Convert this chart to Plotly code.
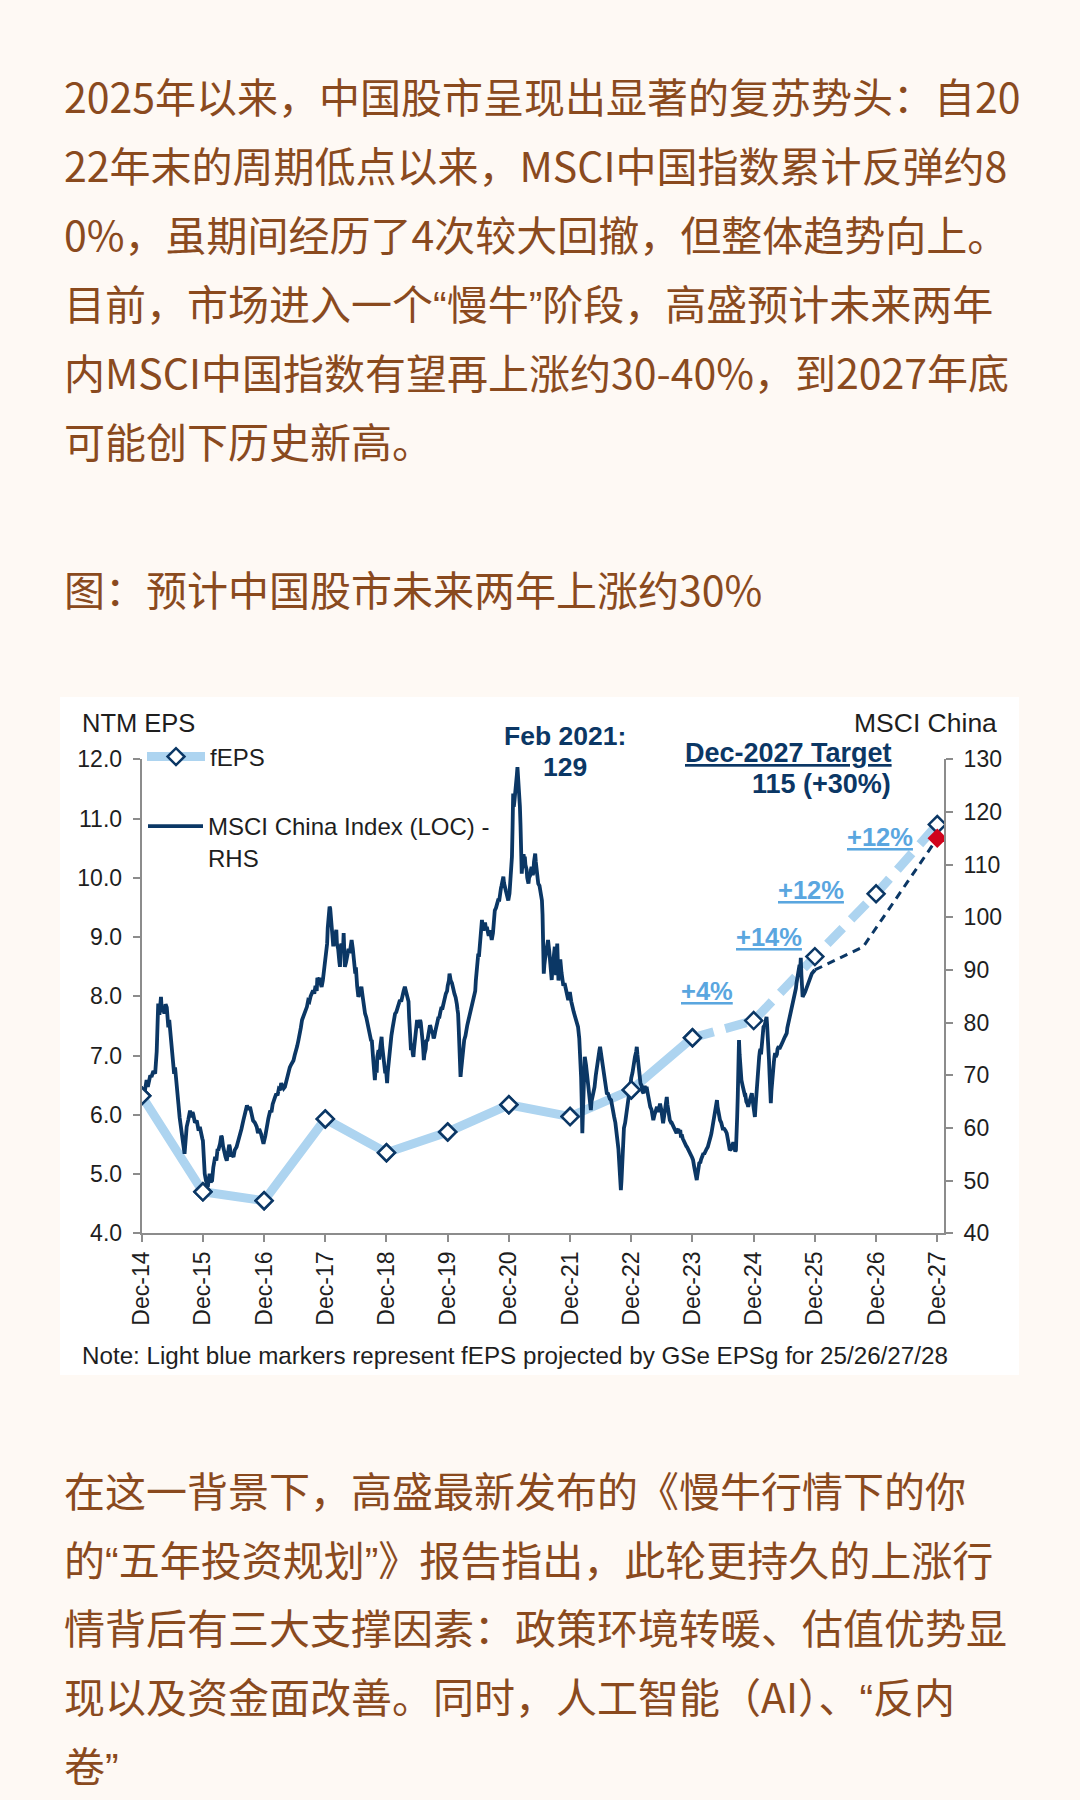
import plotly.graph_objects as go

W, H = 1080, 1800
BG = "#FEF9F4"
BROWN = "#8A4A1E"
NAVY = "#0B3765"
LIGHT = "#ADD4F0"
PCT = "#5AA6DF"
RED = "#D0021B"
GREY = "#8C8C8C"
INK = "#1E1E1E"
CJK = "Noto Sans CJK SC"
LAT = "Liberation Sans, Arial, sans-serif"

# narrow (Latin) curly quotes, as in the reference rendering
LQ = '<span style="font-family:Liberation Sans">“</span>'
RQ = '<span style="font-family:Liberation Sans">”</span>'

# ---------------- text ----------------
para1 = [
    "2025年以来，中国股市呈现出显著的复苏势头：自20",
    "22年末的周期低点以来，MSCI中国指数累计反弹约8",
    "0%，虽期间经历了4次较大回撤，但整体趋势向上。",
    "目前，市场进入一个" + LQ + "慢牛" + RQ + "阶段，高盛预计未来两年",
    "内MSCI中国指数有望再上涨约30-40%，到2027年底",
    "可能创下历史新高。",
]
caption = "图：预计中国股市未来两年上涨约30%"
para2 = [
    "在这一背景下，高盛最新发布的《慢牛行情下的你",
    "的" + LQ + "五年投资规划" + RQ + "》报告指出，此轮更持久的上涨行",
    "情背后有三大支撑因素：政策环境转暖、估值优势显",
    "现以及资金面改善。同时，人工智能（AI）、" + LQ + "反内",
    "卷" + RQ,
]

# ---------------- chart data ----------------
tick_pos = list(range(14))  # years after Dec-2014
tick_labels = ["Dec-14", "Dec-15", "Dec-16", "Dec-17", "Dec-18", "Dec-19", "Dec-20",
               "Dec-21", "Dec-22", "Dec-23", "Dec-24", "Dec-25", "Dec-26", "Dec-27"]

feps_t = list(range(14))
feps_v = [6.32, 4.70, 4.55, 5.93, 5.36, 5.71, 6.17, 5.97, 6.42, 7.30, 7.59, 8.67, 9.73, 10.90]
N_ACTUAL_FEPS = 10  # Dec-14 .. Dec-23 solid, then projected (dashed)

# MSCI China index (LOC), (years after Dec-2014, level)
m2015 = [(0.00,65.9),(0.02,67.5),(0.04,66.2),(0.06,68.0),(0.08,69.1),(0.10,67.8),(0.12,69.5),(0.14,70.0),(0.16,69.7),(0.19,70.8),(0.22,70.3),(0.245,74.5),(0.26,80.0),(0.27,83.6),(0.29,81.5),(0.305,84.0),(0.315,84.9),(0.33,82.0),(0.35,83.0),(0.37,81.7),(0.39,83.5),(0.41,82.9),(0.425,80.0),(0.435,79.1),(0.45,80.5),(0.47,77.5),(0.49,76.6),(0.51,73.0),(0.53,70.3),(0.545,71.5),(0.56,69.0),(0.58,66.0),(0.60,64.6),(0.62,62.0),(0.64,60.0),(0.65,58.9),(0.67,57.5),(0.69,56.0),(0.70,55.1),(0.72,58.0),(0.735,60.2),(0.76,61.5),(0.78,62.5),(0.79,63.3),(0.81,62.0),(0.83,63.0),(0.84,62.7),(0.87,61.0),(0.90,61.4),(0.92,59.8),(0.93,59.5),(0.95,60.2),(0.97,58.5),(0.99,58.0)]
m2016 = [(1.00,57.6),(1.015,54.0),(1.03,51.3),(1.05,50.0),(1.065,49.5),(1.08,48.8),(1.10,50.5),(1.11,51.3),(1.13,49.8),(1.15,50.0),(1.17,52.5),(1.19,53.5),(1.20,54.5),(1.22,53.8),(1.24,56.0),(1.25,55.7),(1.28,57.0),(1.30,58.5),(1.31,58.3),(1.33,56.5),(1.35,55.1),(1.37,54.5),(1.39,53.8),(1.41,55.0),(1.43,56.8),(1.44,56.4),(1.46,54.6),(1.47,55.0),(1.50,54.5),(1.52,55.8),(1.55,56.4),(1.58,57.5),(1.61,58.9),(1.63,59.8),(1.66,61.4),(1.69,62.5),(1.71,63.8),(1.72,64.3),(1.745,63.5),(1.77,64.0),(1.79,63.0),(1.80,62.5),(1.82,61.4),(1.85,61.0),(1.88,60.2),(1.90,59.0),(1.92,59.8),(1.95,58.9),(1.97,58.0),(1.99,57.0)]
m2017 = [(2.02,58.5),(2.04,60.2),(2.07,61.8),(2.10,63.3),(2.12,63.0),(2.14,64.5),(2.16,65.5),(2.18,65.9),(2.20,66.5),(2.22,66.2),(2.24,67.4),(2.26,67.2),(2.28,68.5),(2.30,68.0),(2.32,67.5),(2.34,67.8),(2.37,69.5),(2.40,70.9),(2.42,71.5),(2.44,72.0),(2.46,72.3),(2.48,72.8),(2.50,73.8),(2.52,74.5),(2.54,75.5),(2.56,76.6),(2.58,78.5),(2.60,79.0),(2.62,80.5),(2.64,81.1),(2.66,81.8),(2.68,82.5),(2.70,83.0),(2.72,84.2),(2.74,84.0),(2.76,85.0),(2.78,85.5),(2.80,86.1),(2.82,85.5),(2.84,87.0),(2.86,86.0),(2.87,88.5),(2.89,88.0),(2.91,88.5),(2.92,87.5),(2.94,86.8),(2.96,88.0),(2.97,89.0),(2.99,90.0)]
m2018 = [(3.00,90.6),(3.02,93.0),(3.03,95.0),(3.04,98.0),(3.05,100.1),(3.06,99.0),(3.07,102.0),(3.08,101.7),(3.09,99.5),(3.10,98.0),(3.12,96.0),(3.13,94.5),(3.15,95.5),(3.16,96.5),(3.18,97.6),(3.19,95.0),(3.21,94.0),(3.23,91.5),(3.24,90.6),(3.25,93.5),(3.26,95.0),(3.28,94.5),(3.29,93.8),(3.30,97.0),(3.31,92.5),(3.32,90.6),(3.34,91.5),(3.36,93.0),(3.38,94.0),(3.40,93.2),(3.43,95.7),(3.45,94.0),(3.46,92.0),(3.48,90.5),(3.49,89.3),(3.50,90.5),(3.52,87.0),(3.54,84.9),(3.56,85.5),(3.57,86.0),(3.59,86.8),(3.61,85.0),(3.62,84.0),(3.64,82.5),(3.65,81.7),(3.67,81.0),(3.68,80.5),(3.70,79.2),(3.72,78.5),(3.73,78.0),(3.75,76.5),(3.76,76.7),(3.78,73.5),(3.79,72.0),(3.80,70.0),(3.81,69.1),(3.82,71.0),(3.83,71.5),(3.84,70.5),(3.85,73.5),(3.87,74.8),(3.88,73.0),(3.90,75.5),(3.92,77.3),(3.93,75.5),(3.95,73.0),(3.96,71.5),(3.98,70.4),(3.99,71.5)]
m2019 = [(4.01,68.5),(4.02,70.5),(4.03,72.0),(4.05,74.5),(4.06,76.7),(4.08,77.5),(4.10,79.0),(4.12,80.5),(4.14,81.7),(4.16,82.0),(4.18,83.0),(4.20,83.8),(4.22,84.3),(4.24,84.0),(4.26,85.5),(4.28,86.0),(4.30,86.8),(4.32,86.0),(4.33,85.6),(4.35,85.0),(4.36,84.0),(4.37,81.0),(4.38,79.0),(4.39,76.5),(4.40,74.8),(4.41,76.0),(4.42,75.5),(4.43,74.0),(4.44,73.5),(4.45,75.0),(4.46,76.0),(4.47,77.5),(4.48,78.5),(4.49,79.5),(4.50,80.5),(4.52,79.0),(4.53,79.5),(4.55,80.5),(4.56,80.0),(4.57,79.0),(4.58,78.6),(4.59,76.5),(4.60,75.0),(4.61,72.9),(4.62,74.0),(4.64,75.0),(4.65,76.5),(4.67,76.7),(4.68,77.5),(4.70,78.0),(4.71,79.5),(4.72,79.2),(4.74,78.0),(4.75,78.5),(4.77,77.0),(4.78,77.3),(4.80,78.5),(4.81,79.5),(4.83,80.0),(4.85,81.1),(4.86,80.8),(4.88,82.0),(4.90,83.0),(4.91,82.5),(4.93,84.0),(4.95,84.5),(4.97,85.5),(4.99,86.0)]
m2020 = [(5.00,87.0),(5.02,88.0),(5.03,89.3),(5.04,88.5),(5.05,88.0),(5.07,87.5),(5.08,86.8),(5.10,86.0),(5.11,85.5),(5.13,84.8),(5.14,84.3),(5.15,83.5),(5.16,82.5),(5.17,81.7),(5.18,79.0),(5.19,76.0),(5.20,72.0),(5.21,69.7),(5.22,71.0),(5.23,72.5),(5.24,74.0),(5.25,75.5),(5.26,75.0),(5.27,76.7),(5.29,77.5),(5.30,78.5),(5.32,79.5),(5.34,80.5),(5.36,81.5),(5.38,82.5),(5.40,83.5),(5.42,84.3),(5.43,85.0),(5.45,86.0),(5.46,88.0),(5.47,89.5),(5.49,91.5),(5.50,93.1),(5.51,92.5),(5.52,94.5),(5.53,96.0),(5.55,97.5),(5.56,99.5),(5.57,98.5),(5.58,97.5),(5.60,98.5),(5.61,99.0),(5.63,97.5),(5.64,98.2),(5.66,97.0),(5.67,96.5),(5.69,97.5),(5.70,97.0),(5.71,96.0),(5.72,95.7),(5.74,97.0),(5.75,98.5),(5.76,100.0),(5.77,101.3),(5.79,101.8),(5.80,102.5),(5.82,103.0),(5.83,103.5),(5.84,103.0),(5.85,104.5),(5.87,105.5),(5.88,106.0),(5.90,107.0),(5.91,107.7),(5.92,106.5),(5.93,106.0),(5.95,105.0),(5.96,104.0),(5.98,103.5),(5.99,103.2)]
m2021 = [(6.01,104.5),(6.02,106.0),(6.03,108.0),(6.04,109.5),(6.05,111.5),(6.06,117.0),(6.07,123.5),(6.08,121.0),(6.09,122.0),(6.10,124.0),(6.11,126.0),(6.12,125.0),(6.13,127.0),(6.14,128.5),(6.15,127.0),(6.16,125.0),(6.17,123.0),(6.18,121.0),(6.19,117.5),(6.20,114.0),(6.21,108.3),(6.22,110.0),(6.23,110.5),(6.24,112.0),(6.25,111.0),(6.26,111.5),(6.27,110.0),(6.29,109.0),(6.30,107.5),(6.32,106.4),(6.33,107.5),(6.35,108.0),(6.36,109.0),(6.37,109.6),(6.39,108.0),(6.40,108.5),(6.41,110.5),(6.43,112.1),(6.44,110.5),(6.45,109.0),(6.47,107.5),(6.48,106.4),(6.50,106.0),(6.51,105.0),(6.53,104.0),(6.54,103.2),(6.55,100.5),(6.56,97.0),(6.57,89.3),(6.58,91.0),(6.59,92.0),(6.61,93.5),(6.62,94.0),(6.63,95.0),(6.64,95.7),(6.66,93.5),(6.67,92.0),(6.68,90.0),(6.70,88.1),(6.71,90.0),(6.72,91.0),(6.74,93.0),(6.75,94.4),(6.77,89.0),(6.79,95.0),(6.81,88.0),(6.82,90.5),(6.84,92.0),(6.86,89.5),(6.88,88.0),(6.89,87.0),(6.91,87.5),(6.92,86.8),(6.94,86.0),(6.95,85.5),(6.97,84.3),(6.99,85.5)]
m2022 = [(7.00,85.5),(7.02,84.0),(7.03,83.0),(7.05,82.5),(7.06,82.0),(7.08,81.1),(7.10,80.5),(7.11,80.0),(7.13,79.2),(7.15,77.0),(7.16,75.0),(7.17,72.0),(7.18,69.7),(7.19,65.0),(7.20,59.0),(7.21,63.0),(7.22,68.0),(7.23,71.5),(7.24,73.5),(7.26,72.0),(7.27,71.0),(7.29,69.5),(7.30,68.5),(7.31,67.0),(7.32,66.0),(7.33,64.5),(7.34,63.4),(7.35,65.0),(7.37,66.0),(7.39,67.0),(7.40,67.8),(7.42,70.0),(7.43,71.0),(7.44,72.0),(7.45,72.9),(7.47,74.0),(7.48,74.8),(7.49,75.4),(7.50,74.5),(7.52,73.5),(7.53,72.5),(7.54,71.6),(7.56,70.0),(7.57,69.0),(7.59,67.5),(7.60,66.6),(7.62,66.5),(7.63,66.0),(7.65,65.5),(7.67,65.3),(7.68,64.5),(7.70,63.5),(7.71,63.0),(7.72,62.1),(7.74,61.0),(7.75,60.0),(7.77,58.5),(7.78,57.7),(7.79,56.0),(7.80,54.0),(7.81,52.0),(7.82,50.5),(7.83,48.2),(7.84,50.0),(7.85,53.0),(7.86,56.0),(7.87,59.0),(7.88,60.0),(7.90,61.0),(7.91,62.0),(7.92,62.8),(7.94,64.0),(7.95,65.0),(7.97,66.5),(7.98,67.8),(7.99,68.5)]
m2023 = [(8.00,69.5),(8.02,70.5),(8.03,71.6),(8.05,72.5),(8.06,73.5),(8.08,74.5),(8.09,75.4),(8.10,74.0),(8.11,72.5),(8.13,70.5),(8.14,69.1),(8.15,68.5),(8.17,68.0),(8.18,67.0),(8.20,66.6),(8.21,67.5),(8.22,68.0),(8.24,67.0),(8.25,67.8),(8.27,66.5),(8.28,65.5),(8.30,64.5),(8.31,64.0),(8.33,63.5),(8.34,63.0),(8.35,62.0),(8.36,61.5),(8.38,62.5),(8.39,63.0),(8.41,63.5),(8.42,64.0),(8.44,63.0),(8.45,63.5),(8.46,64.0),(8.47,64.6),(8.49,63.5),(8.50,62.5),(8.51,61.5),(8.52,60.9),(8.54,62.5),(8.55,63.5),(8.57,65.0),(8.58,65.9),(8.59,64.5),(8.60,63.5),(8.62,62.0),(8.63,61.5),(8.65,61.0),(8.66,61.0),(8.68,60.5),(8.69,60.2),(8.71,59.5),(8.72,59.5),(8.74,59.0),(8.75,59.5),(8.77,59.8),(8.78,59.0),(8.80,59.6),(8.81,58.5),(8.83,58.5),(8.84,58.0),(8.85,57.7),(8.87,57.0),(8.88,57.0),(8.90,56.5),(8.91,56.4),(8.93,56.0),(8.94,55.8),(8.96,55.2),(8.97,55.0),(8.99,54.5)]
m2024 = [(9.00,54.2),(9.01,53.9),(9.03,52.5),(9.04,52.0),(9.05,51.0),(9.07,50.1),(9.08,51.0),(9.09,51.5),(9.10,52.5),(9.11,53.3),(9.13,53.5),(9.14,54.0),(9.16,54.5),(9.18,55.2),(9.19,55.0),(9.21,55.8),(9.23,56.0),(9.25,56.4),(9.26,57.0),(9.28,57.5),(9.30,58.5),(9.31,59.0),(9.33,60.5),(9.34,61.5),(9.36,62.5),(9.37,63.5),(9.39,64.5),(9.40,65.3),(9.41,64.0),(9.42,63.0),(9.44,62.0),(9.45,61.5),(9.47,61.0),(9.48,60.5),(9.50,59.6),(9.51,60.0),(9.53,59.8),(9.54,59.5),(9.56,59.0),(9.57,58.5),(9.58,57.5),(9.60,56.5),(9.61,55.8),(9.63,56.0),(9.64,56.5),(9.66,57.0),(9.67,57.0),(9.69,56.0),(9.70,55.5),(9.71,55.8),(9.72,58.0),(9.73,62.0),(9.74,66.0),(9.75,70.0),(9.76,76.7),(9.77,74.0),(9.78,72.0),(9.79,70.5),(9.80,69.1),(9.82,68.0),(9.83,67.0),(9.85,66.5),(9.86,66.6),(9.87,65.5),(9.88,65.0),(9.90,64.5),(9.91,64.0),(9.93,65.0),(9.94,65.5),(9.96,66.0),(9.97,66.6),(9.98,65.5),(9.99,64.5)]
m2025 = [(10.00,63.5),(10.01,63.0),(10.02,62.1),(10.03,64.0),(10.04,66.0),(10.05,67.0),(10.06,69.5),(10.07,71.5),(10.08,72.9),(10.09,73.5),(10.10,74.5),(10.11,75.0),(10.12,74.0),(10.13,76.0),(10.14,77.5),(10.15,78.5),(10.16,79.2),(10.18,79.5),(10.19,80.0),(10.20,80.5),(10.21,81.1),(10.22,79.5),(10.23,78.0),(10.24,76.0),(10.25,73.0),(10.26,70.0),(10.27,67.0),(10.28,64.7),(10.29,67.0),(10.30,69.0),(10.31,71.0),(10.33,72.5),(10.34,73.5),(10.35,74.2),(10.36,73.5),(10.38,74.0),(10.39,75.0),(10.41,75.5),(10.42,75.0),(10.43,75.4),(10.45,76.0),(10.46,76.0),(10.48,76.5),(10.49,77.0),(10.51,77.3),(10.52,77.5),(10.54,78.0),(10.55,79.0),(10.57,80.0),(10.58,81.0),(10.59,81.7),(10.61,82.5),(10.62,83.0),(10.64,83.5),(10.65,84.0),(10.66,85.0),(10.67,85.5),(10.69,86.5),(10.70,87.5),(10.72,89.0),(10.73,90.0),(10.74,90.5),(10.75,91.0),(10.76,90.0),(10.77,92.3),(10.78,89.0),(10.79,86.5),(10.80,84.9),(10.84,85.8),(10.87,86.8),(10.91,88.2),(10.95,89.3),(11.00,90.0)]

proj_t = [11.00, 11.79, 13.00]
proj_v = [90.0, 94.4, 115.0]
target_t = [13.0]
target_v = [115.0]

pct_labels = ["+4%", "+14%", "+12%", "+12%"]

# ---------------- helpers ----------------
def px(x):
    return x / W

def py(y):
    return 1 - y / H

msci = m2015 + m2016 + m2017 + m2018 + m2019 + m2020 + m2021 + m2022 + m2023 + m2024 + m2025
msci_t = [p[0] for p in msci]
msci_v = [p[1] for p in msci]

diamond = dict(symbol="diamond", size=13, color="white", line=dict(color=NAVY, width=2.5))

fig = go.Figure()

fig.add_trace(go.Scatter(
    x=feps_t[:N_ACTUAL_FEPS], y=feps_v[:N_ACTUAL_FEPS], mode="lines+markers", name="fEPS",
    line=dict(color=LIGHT, width=9), marker=diamond, yaxis="y", legend="legend",
    showlegend=True, hoverinfo="skip"))
fig.add_trace(go.Scatter(
    x=feps_t[N_ACTUAL_FEPS - 1:], y=feps_v[N_ACTUAL_FEPS - 1:], mode="lines",
    line=dict(color=LIGHT, width=9, dash="22px,12px"), yaxis="y", showlegend=False,
    hoverinfo="skip"))
fig.add_trace(go.Scatter(
    x=msci_t, y=msci_v, mode="lines", name="MSCI China Index (LOC) -<br>RHS",
    line=dict(color=NAVY, width=3.8), yaxis="y2", legend="legend2", showlegend=True,
    hoverinfo="skip"))
fig.add_trace(go.Scatter(
    x=proj_t, y=proj_v, mode="lines", line=dict(color=NAVY, width=3, dash="8px,6px"),
    yaxis="y2", showlegend=False, hoverinfo="skip"))
fig.add_trace(go.Scatter(
    x=feps_t, y=feps_v, mode="markers", marker=diamond, yaxis="y3", showlegend=False,
    hoverinfo="skip"))
fig.add_trace(go.Scatter(
    x=target_t, y=target_v, mode="markers",
    marker=dict(symbol="diamond", size=15, color=RED), yaxis="y4", showlegend=False,
    hoverinfo="skip"))

XD = [px(141.7), px(944)]
YD = [py(1233.3), py(759.3)]
tickfont = dict(family=LAT, size=23, color=INK)
axis_common = dict(showline=True, linecolor=GREY, linewidth=2, ticks="outside",
                   ticklen=7, tickwidth=2, tickcolor=GREY, showgrid=False,
                   zeroline=False, tickfont=tickfont, fixedrange=True, automargin=False)

annotations = []
for i, line in enumerate(para1):
    annotations.append(dict(x=px(62), y=py(95.3 + i * 68.9), text=line, showarrow=False,
                            xanchor="left", yanchor="middle", xref="paper", yref="paper",
                            font=dict(family=CJK, size=41, color=BROWN)))
annotations.append(dict(x=px(62), y=py(587.6), text=caption, showarrow=False,
                        xanchor="left", yanchor="middle", xref="paper", yref="paper",
                        font=dict(family=CJK, size=41, color=BROWN)))
for i, line in enumerate(para2):
    annotations.append(dict(x=px(62), y=py(1488.6 + i * 68.9), text=line, showarrow=False,
                            xanchor="left", yanchor="middle", xref="paper", yref="paper",
                            font=dict(family=CJK, size=41, color=BROWN)))

def note(x, y, text, size=24, color=INK, xanchor="left"):
    annotations.append(dict(x=px(x), y=py(y), text=text, showarrow=False, xanchor=xanchor,
                            yanchor="middle", xref="paper", yref="paper",
                            font=dict(family=LAT, size=size, color=color)))

note(80, 723, "NTM EPS", size=25.5)
note(999, 723, "MSCI China", size=26.5, xanchor="right")
note(565, 736, "<b>Feb 2021:</b>", size=26.5, color=NAVY, xanchor="center")
note(565, 767, "<b>129</b>", size=26.5, color=NAVY, xanchor="center")
note(788, 753, "<b><u>Dec-2027 Target</u></b>", size=27, color=NAVY, xanchor="center")
note(893, 784, "<b>115 (+30%)</b>", size=27, color=NAVY, xanchor="right")
pct_pos = [(706.5, 991), (768.5, 937), (811, 890), (879.5, 837)]
for (x, y), lab in zip(pct_pos, pct_labels):
    note(x, y, "<b><u>" + lab + "</u></b>", size=25.5, color=PCT, xanchor="center")
note(80, 1355, "Note: Light blue markers represent fEPS projected by GSe EPSg for 25/26/27/28", size=24.2)

fig.update_layout(
    width=W, height=H, autosize=False,
    margin=dict(l=0, r=0, t=0, b=0, pad=0, autoexpand=False),
    paper_bgcolor=BG, plot_bgcolor="white",
    xaxis=dict(domain=XD, range=[0, 13.11], tickmode="array", tickvals=tick_pos,
               ticktext=tick_labels, tickangle=-90, anchor="y", **axis_common),
    yaxis=dict(domain=YD, range=[4, 12], dtick=1, tickformat=".1f", anchor="x",
               ticklabelstandoff=6, **axis_common),
    yaxis2=dict(range=[40, 130], dtick=10, overlaying="y", side="right", anchor="x",
                ticklabelstandoff=6, **axis_common),
    yaxis3=dict(range=[4, 12], overlaying="y", visible=False, fixedrange=True),
    yaxis4=dict(range=[40, 130], overlaying="y", visible=False, fixedrange=True),
    legend=dict(x=px(142), y=py(757), xanchor="left", yanchor="middle",
                bgcolor="rgba(0,0,0,0)", itemwidth=58,
                font=dict(family=LAT, size=24, color=INK)),
    legend2=dict(x=px(143), y=py(804), xanchor="left", yanchor="top", valign="top",
                 bgcolor="rgba(0,0,0,0)", itemwidth=55,
                 font=dict(family=LAT, size=24, color=INK)),
    shapes=[dict(type="rect", xref="paper", yref="paper", x0=px(60), x1=px(1019),
                 y0=py(1375), y1=py(697), fillcolor="white", line=dict(width=0),
                 layer="below")],
    annotations=annotations,
    showlegend=True,
)

fig.write_html("out.html")
